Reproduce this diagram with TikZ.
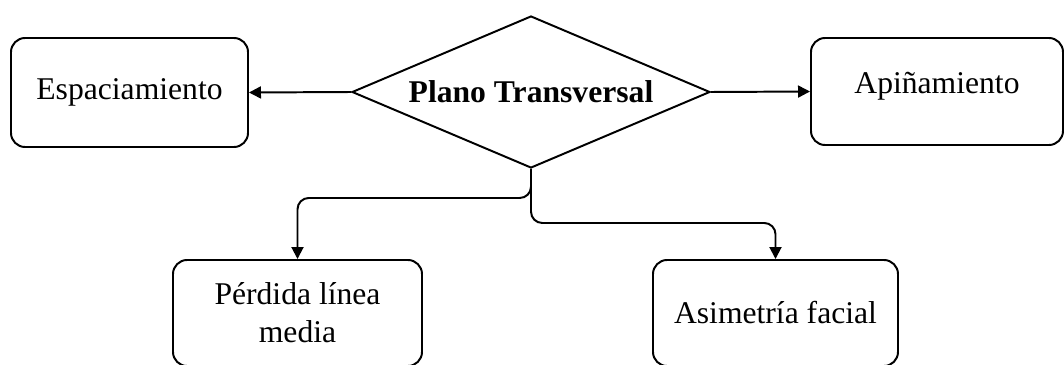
\documentclass[tikz,border=0pt]{standalone}
\usepackage{fontspec}
\setmainfont{Liberation Serif}
\usepackage{tikz}
\usetikzlibrary{shapes.geometric, arrows.meta}

\begin{document}
\begin{tikzpicture}[
    box/.style={draw, line width=1.4pt, rounded corners=10pt, align=center, inner sep=0pt},
    decision/.style={draw, diamond, line width=1.4pt, aspect=2.35, inner sep=0pt,
      minimum width=8.95cm, minimum height=3.8cm, font=\bfseries},
    conn/.style={line width=1.4pt, -{Triangle[length=0.3cm, width=0.3cm]}, rounded corners=8pt}
  ]
  \useasboundingbox (0,0) rectangle (26.6,-9.125);
  \clip (0,0) rectangle (26.6,-9.125);
  \fontsize{22.5}{27}\selectfont

  % Central decision
  \node[decision] (plano) at (13.275, -2.3) {Plano Transversal};

  % Side boxes
  \node[box, minimum width=5.925cm, minimum height=2.725cm] (espacio) at (3.2375, -2.3125) {Espaciamiento};
  \node[box, minimum width=6.3cm, minimum height=2.675cm, text depth=0.44cm] (apinam) at (23.425, -2.2875) {Apiñamiento};

  % Bottom boxes
  \node[box, minimum width=6.225cm, minimum height=2.65cm] (perdida) at (7.4375, -7.825) {Pérdida línea\\media};
  \node[box, minimum width=6.125cm, minimum height=2.65cm] (asimet) at (19.3875, -7.825) {Asimetría facial};

  % Connectors
  \draw[conn] (plano.west) -- (espacio.east);
  \draw[conn] (plano.east) -- (apinam.west);
  \draw[conn] (plano.south) -- ++(0,-0.725) -| (perdida.north);
  \draw[conn] (plano.south) -- ++(0,-1.35) -| (asimet.north);
\end{tikzpicture}
\end{document}
